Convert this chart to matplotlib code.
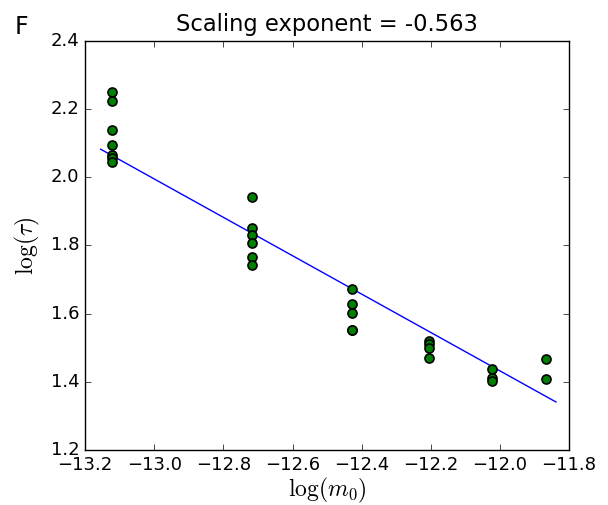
import matplotlib
matplotlib.use("Agg")
import matplotlib.pyplot as plt
import numpy as np

plt.style.use("classic")

# data
log_m0 = [-13.123] * 7 + [-12.717] * 6 + [-12.428] * 5 + [-12.205] * 4 + [-12.024] * 3 + [-11.868] * 2
log_tau = [2.251, 2.225, 2.139, 2.095, 2.064, 2.056, 2.046,
           1.943, 1.850, 1.831, 1.808, 1.765, 1.743,
           1.672, 1.627, 1.603, 1.551, 1.553,
           1.521, 1.510, 1.498, 1.469,
           1.437, 1.410, 1.403,
           1.467, 1.408]
fit_slope = -0.563
fit_intercept = -5.324
fit_x_range = [-13.155, -11.838]
x_ticks = [-13.2, -13.0, -12.8, -12.6, -12.4, -12.2, -12.0, -11.8]
y_ticks = [1.2, 1.4, 1.6, 1.8, 2.0, 2.2, 2.4]

fig = plt.figure(figsize=(6.08, 5.05), dpi=100, facecolor="white")
ax = fig.add_axes([0.14, 0.109, 0.796, 0.81])
ax.set_facecolor("white")

fx = np.array(fit_x_range)
ax.plot(fx, fit_intercept + fit_slope * fx, color="b", linewidth=1)
ax.plot(log_m0, log_tau, "o", color="green", markeredgecolor="black",
        markersize=6.5, markeredgewidth=1.2)

ax.set_xlim(-13.2, -11.8)
ax.set_ylim(1.2, 2.4)
ax.set_xticks(x_ticks)
ax.set_yticks(y_ticks)
ax.tick_params(labelsize=13, pad=4)
ax.set_xlabel(r"$\log(m_0)$", fontsize=17, labelpad=2)
ax.set_ylabel(r"$\log(\tau)$", fontsize=17, labelpad=6)
ax.set_title("Scaling exponent = -0.563", fontsize=16.3, pad=7)
fig.text(0.024, 0.947, "F", fontsize=17, ha="left", va="center")

fig.savefig("out.png", dpi=100, facecolor="white")
